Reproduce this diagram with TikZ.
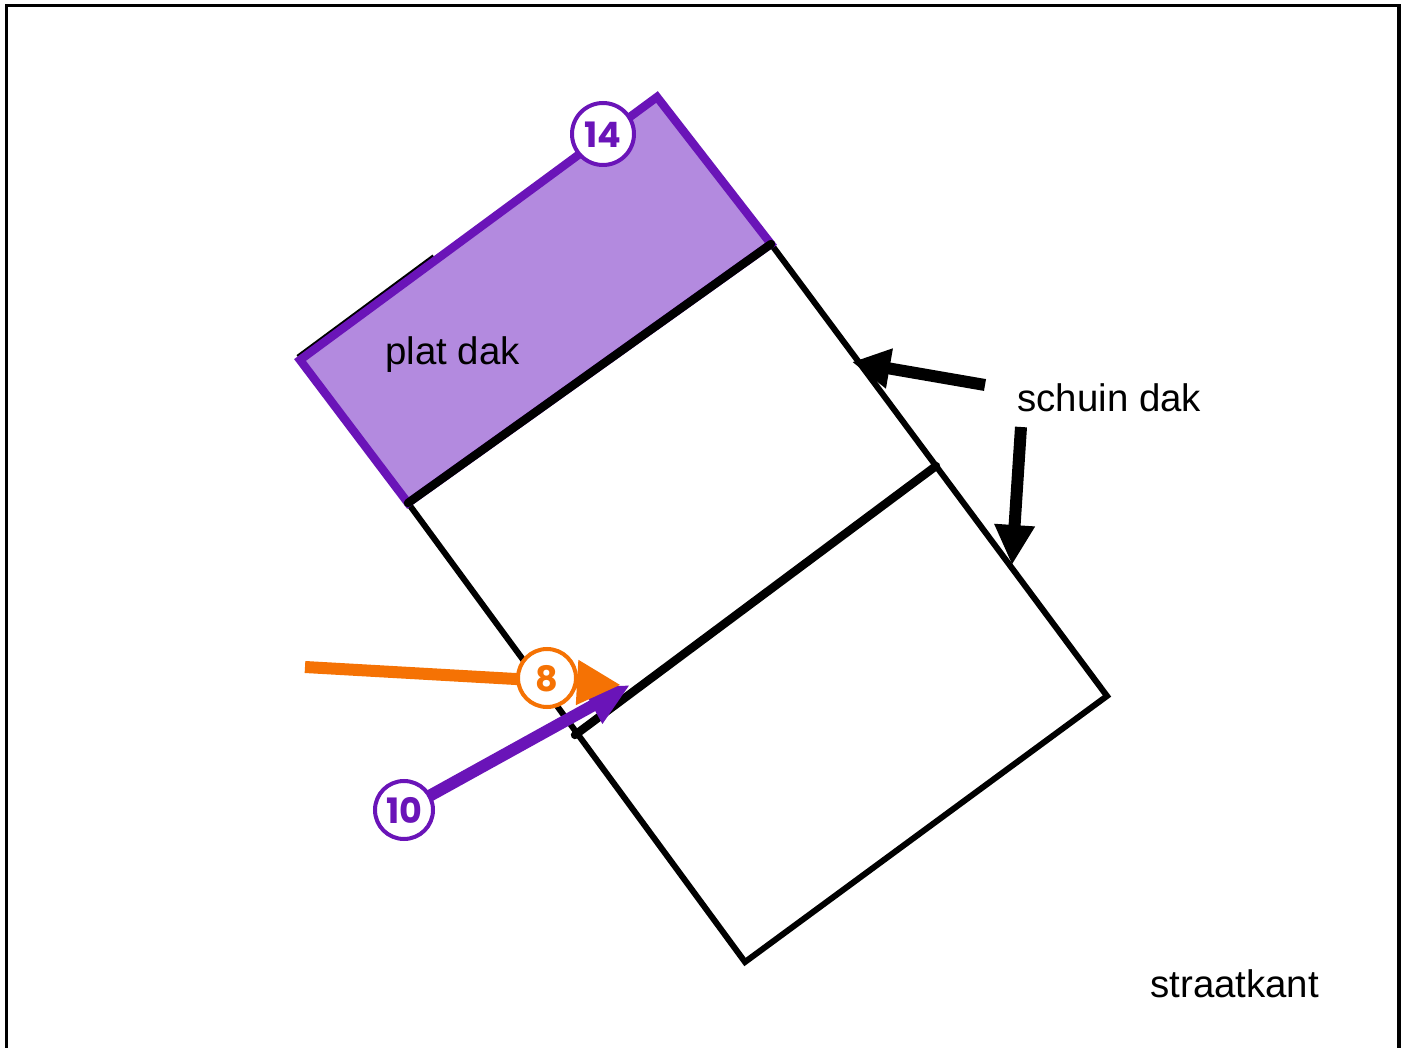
\documentclass[tikz,border=0pt]{standalone}
\usepackage{fontspec}
\setmainfont{Liberation Sans}
\newfontfamily\numfont{Poppins}
\usetikzlibrary{arrows.meta}
\definecolor{dakpaars}{HTML}{6A14B8}
\definecolor{dakvul}{HTML}{B38ADF}
\definecolor{dakoranje}{HTML}{F57204}
\newcommand\badgenum[1]{\raisebox{-0.6pt}[12.2pt][0pt]{#1}}
\tikzset{
  px/.style={x=0.5pt,y=-0.5pt},
  label text/.style={font=\fontsize{19.2pt}{22pt}\selectfont,inner sep=0pt,text=black},
  badge/.style={circle,draw=#1,fill=white,line width=2pt,minimum size=29pt,inner sep=0pt,text=#1,font=\numfont\bfseries\fontsize{17.5pt}{18pt}\selectfont},
  outline/.style={draw=black,line width=3pt,line join=miter},
  divider/.style={draw=black,line width=4.2pt,line cap=round},
  pointer/.style={line width=6pt,-{Triangle[length=#1,width=19pt]}},
}
\begin{document}
\begin{tikzpicture}[px]
\useasboundingbox (0,0) rectangle (1405,1048);
\fill[white] (0,0) rectangle (1405,1048);
% page frame, open at the bottom
\draw[black,line width=1.8pt] (6.5,1060) -- (6.5,5.5) -- (1399,5.5) -- (1399,1060);
% corners
\coordinate (dakN) at (657,97);
\coordinate (dakW) at (300,360);
\coordinate (dakS) at (408,503);
\coordinate (dakE) at (771,244);
\coordinate (midW) at (575,735);
\coordinate (midE) at (936,466);
\coordinate (strE) at (1107,696);
\coordinate (strS) at (745,962);
% main building
\path[outline] (dakE) -- (strE) -- (strS) -- (dakS);
% flat roof
\draw[black,line width=4.2pt] (299,358.5) -- (435,258);
\path[fill=dakvul,draw=dakpaars,line width=4.2pt,line join=miter] (dakN) -- (dakW) -- (dakS) -- (dakE) -- cycle;
\draw[divider] (dakS) -- (dakE);
\draw[divider] (midW) -- (midE);
% labels
\node[label text,anchor=base west] (plat) at (385,365) {plat dak};
\node[label text,anchor=base west] (schuin) at (1017,412) {schuin dak};
\node[label text,anchor=base west] (straat) at (1150,997) {straatkant};
% black pointers
\coordinate (s1from) at (985,385);
\coordinate (s1tip) at (852,362);
\coordinate (s2from) at (1021,427);
\coordinate (s2tip) at (1012,565);
\draw[black,pointer=19pt] (s1from) -- (s1tip);
\draw[black,pointer=20pt] (s2from) -- (s2tip);
% badges and coloured arrows
\coordinate (o8from) at (305,667);
\coordinate (o8tip) at (621,685);
\coordinate (p10tip) at (630,685);
\coordinate (b10pos) at (404,810);
\draw[dakpaars,pointer=21.5pt] (b10pos) -- (p10tip);
\node[badge=dakpaars] (b10) at (b10pos) {\badgenum{10}};
\draw[dakoranje,line width=6pt,-{Triangle[length=22pt,width=21pt]}] (o8from) -- (o8tip);
\node[badge=dakoranje] (b8) at (547,678) {\badgenum{8}};
\node[badge=dakpaars,minimum size=31pt] (b14) at (603,134) {\badgenum{14}};
\end{tikzpicture}
\end{document}
